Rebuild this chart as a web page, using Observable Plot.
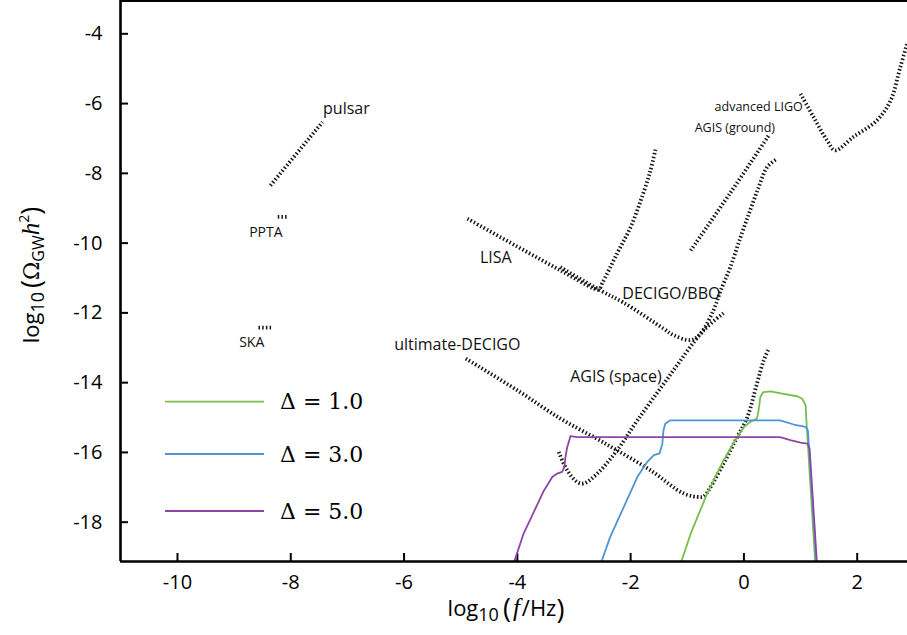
<!DOCTYPE html>
<html><head><meta charset="utf-8">
<script src="https://cdn.jsdelivr.net/npm/d3@7"></script>
<script src="https://cdn.jsdelivr.net/npm/@observablehq/plot@0.6"></script>
<style>body{margin:0;background:#fff} svg{display:block}</style>
</head><body><div id="chart"></div>
<script>
// ---- tick labels ----
const xTicks = [-10, -8, -6, -4, -2, 0, 2];
const yTicks = [-18, -16, -14, -12, -10, -8, -6, -4];

// ---- detector sensitivity curves (log10 f, log10 Omega h^2) ----
const pulsarX = [-8.36, -7.44];
const pulsarY = [-8.35, -6.53];
const pptaX = [-8.23, -8.04];
const pptaY = [-9.25, -9.25];
const skaX = [-8.57, -8.34];
const skaY = [-12.42, -12.42];
const lisaX = [-4.88, -4.00, -3.24, -2.65, -2.56, -2.50, -2.24, -2.00, -1.80, -1.65, -1.56];
const lisaY = [-9.30, -10.10, -10.78, -11.30, -11.33, -11.15, -10.30, -9.54, -8.68, -7.92, -7.30];
const decigoX = [-3.24, -2.53, -2.13, -1.42, -1.24, -0.94, -0.77, -0.54, -0.41, -0.24, -0.06, 0.11, 0.26, 0.41, 0.56];
const decigoY = [-10.69, -11.36, -11.70, -12.45, -12.64, -12.78, -12.60, -11.93, -11.36, -10.69, -9.83, -9.06, -8.40, -7.82, -7.61];
const uDecigoX = [-4.91, -4.00, -3.24, -2.65, -2.24, -1.65, -1.06, -0.77, -0.71, -0.36, -0.12, 0.06, 0.23, 0.35, 0.44];
const uDecigoY = [-13.31, -14.22, -15.03, -15.56, -15.94, -16.51, -17.18, -17.28, -17.26, -16.32, -15.56, -14.99, -14.03, -13.36, -13.03];
const agisSpaceX = [-3.27, -3.12, -2.94, -2.83, -2.59, -2.24, -1.88, -1.33, -0.71, -0.36];
const agisSpaceY = [-15.99, -16.51, -16.85, -16.89, -16.61, -15.94, -15.08, -13.84, -12.50, -12.01];
const agisGroundX = [-0.94, -0.24, 0.44];
const agisGroundY = [-10.21, -8.56, -6.91];
const ligoX = [1.00, 1.23, 1.47, 1.61, 1.93, 2.35, 2.59, 2.76, 2.88];
const ligoY = [-5.72, -6.39, -7.06, -7.34, -6.96, -6.48, -5.91, -4.96, -4.29];

// ---- model spectra ----
const seriesNames = ["Δ = 1.0", "Δ = 3.0", "Δ = 5.0"];
const seriesColors = ["#79bd4a", "#4c95d8", "#8c46a6"];
const d1X = [-1.12, -0.94, -0.65, -0.36, -0.12, 0, 0.11, 0.23, 0.26, 0.29, 0.34, 0.47, 0.70, 0.94, 1.03, 1.09, 1.10, 1.26];
const d1Y = [-19.2, -18.33, -17.18, -16.23, -15.56, -15.27, -15.13, -15.03, -14.79, -14.41, -14.27, -14.25, -14.32, -14.39, -14.46, -14.65, -14.99, -19.2];
const d3X = [-2.53, -2.36, -2.12, -1.88, -1.71, -1.59, -1.49, -1.44, -1.42, -1.39, -1.30, 0.64, 0.88, 1.09, 1.13, 1.28];
const d3Y = [-19.2, -18.42, -17.56, -16.70, -16.28, -16.08, -16.03, -15.75, -15.37, -15.18, -15.08, -15.08, -15.20, -15.27, -15.37, -19.2];
const d5X = [-4.07, -3.89, -3.71, -3.53, -3.38, -3.30, -3.21, -3.17, -3.15, -3.12, -3.06, -2.94, 0.64, 0.82, 1.00, 1.12, 1.16, 1.29];
const d5Y = [-19.2, -18.33, -17.71, -17.09, -16.70, -16.61, -16.56, -16.42, -16.13, -15.85, -15.53, -15.56, -15.56, -15.65, -15.72, -15.75, -15.89, -19.2];

// ---- annotation labels ----
const labelText = ["pulsar", "PPTA", "SKA", "LISA", "DECIGO/BBO", "ultimate-DECIGO", "AGIS (space)", "advanced LIGO", "AGIS (ground)"];
const labelX = [-7.43, -8.44, -8.69, -4.38, -1.28, -5.06, -2.26, 0.26, -0.16];
const labelY = [-6.14, -9.69, -12.84, -10.41, -11.45, -12.93, -13.84, -6.10, -6.70];
const labelSize = [16, 14, 14, 16, 16, 16, 16, 12.5, 12.5];

// ---- build tables ----
const detectors = [
  ["pulsar", pulsarX, pulsarY], ["PPTA", pptaX, pptaY], ["SKA", skaX, skaY],
  ["LISA", lisaX, lisaY], ["DECIGO/BBO", decigoX, decigoY], ["ultimate-DECIGO", uDecigoX, uDecigoY],
  ["AGIS (space)", agisSpaceX, agisSpaceY], ["AGIS (ground)", agisGroundX, agisGroundY], ["advanced LIGO", ligoX, ligoY]
];
const detRows = detectors.flatMap(([name, xs, ys]) => xs.map((x, i) => ({name, x, y: ys[i]})));
const models = [[d1X, d1Y], [d3X, d3Y], [d5X, d5Y]];
const modelRows = models.flatMap(([xs, ys], k) => xs.map((x, i) => ({name: seriesNames[k], x, y: ys[i]})));
const labels = labelText.map((t, i) => ({t, x: labelX[i], y: labelY[i], s: labelSize[i]}));

const W = 907, H = 635, ML = 120, MR = 0, MT = 0, MB = 74;
const plotH = H - MT - MB, plotW = W - ML - MR;
const xDomain = [-11.006, 2.888], yDomain = [-19.127, -3.045];

const chart = Plot.plot({
  width: W, height: H,
  marginLeft: ML, marginRight: MR, marginTop: MT, marginBottom: MB,
  style: {fontFamily: "Open Sans", background: "white", color: "#000"},
  x: {domain: xDomain},
  y: {domain: yDomain},
  color: {domain: seriesNames, range: seriesColors},
  marks: [
    Plot.axisX({ticks: xTicks, tickSize: 0, tickPadding: 13, tickFormat: d => String(d), fontSize: 20, label: null}),
    Plot.axisY({ticks: yTicks, tickSize: 0, tickPadding: 18, tickFormat: d => String(d), fontSize: 20, label: null}),
    Plot.ruleX(xTicks, {x: d => d, insetTop: plotH - 8, stroke: "#000", strokeWidth: 2}),
    Plot.ruleY(yTicks, {y: d => d, insetRight: plotW - 8, stroke: "#000", strokeWidth: 2}),
    Plot.line(detRows, {x: "x", y: "y", z: "name", stroke: "#141a14", strokeWidth: 3.8,
      strokeDasharray: "1.5 2.2", strokeLinecap: "butt", strokeLinejoin: "miter", curve: "catmull-rom", clip: true}),
    Plot.line(modelRows, {x: "x", y: "y", z: "name", stroke: "name", strokeWidth: 1.8, clip: true}),
    Plot.text(labels.filter(d => d.t === "pulsar"), {x: "x", y: "y", text: "t", fontSize: "s", textAnchor: "start", fill: "#111"}),
    Plot.text(labels.filter(d => d.t !== "pulsar"), {x: "x", y: "y", text: "t", fontSize: "s", textAnchor: "middle", fill: "#111"}),
    Plot.ruleX([xDomain[0]], {stroke: "#000", strokeWidth: 2.6}),
    Plot.ruleY([yDomain[0]], {stroke: "#000", strokeWidth: 2.6}),
    Plot.ruleY([yDomain[1]], {stroke: "#000", strokeWidth: 3})
  ]
});
document.getElementById("chart").appendChild(chart);

// ---- legend and math axis labels ----
const svg = d3.select(chart);
const legY = [401.7, 454, 511];
const lg = svg.append("g");
seriesNames.forEach((n, i) => {
  lg.append("line").attr("x1", 165).attr("x2", 264).attr("y1", legY[i]).attr("y2", legY[i])
    .attr("stroke", seriesColors[i]).attr("stroke-width", 1.8);
  lg.append("text").attr("x", 280).attr("y", legY[i] + 7.5).attr("text-anchor", "start")
    .attr("font-family", "DejaVu Serif").attr("font-size", 22).attr("fill", "#000").text(n);
});

// x label: log10(f/Hz)
const xl = svg.append("text").attr("x", 506).attr("y", 616).attr("text-anchor", "middle")
  .attr("font-family", "Open Sans").attr("font-size", 22).attr("fill", "#000");
xl.append("tspan").text("log");
xl.append("tspan").attr("font-size", 18).attr("dy", 5).text("10");
xl.append("tspan").attr("font-size", 27).attr("dy", -3).attr("dx", 4).text("(");
xl.append("tspan").attr("font-family", "Liberation Serif").attr("font-style", "italic").attr("font-size", 25).attr("dy", -2).attr("dx", 2).text("f");
xl.append("tspan").attr("dx", 2).text("/Hz");
xl.append("tspan").attr("font-size", 27).attr("dy", 3).text(")");

// y label: log10(Omega_GW h^2)
const yl = svg.append("text").attr("transform", "translate(39,275) rotate(-90)").attr("text-anchor", "middle")
  .attr("font-family", "Open Sans").attr("font-size", 22).attr("fill", "#000");
yl.append("tspan").text("log");
yl.append("tspan").attr("font-size", 18).attr("dy", 5).text("10");
yl.append("tspan").attr("font-size", 27).attr("dy", -3).attr("dx", 4).text("(");
yl.append("tspan").attr("font-family", "DejaVu Serif").attr("font-size", 22).attr("dy", -2).text("Ω");
yl.append("tspan").attr("font-size", 16).attr("dy", 5).text("GW");
yl.append("tspan").attr("font-family", "Liberation Serif").attr("font-style", "italic").attr("font-size", 25).attr("dy", -5).text("h");
yl.append("tspan").attr("font-size", 14).attr("dy", -10).text("2");
yl.append("tspan").attr("font-size", 27).attr("dy", 12).text(")");
</script>
</body></html>
